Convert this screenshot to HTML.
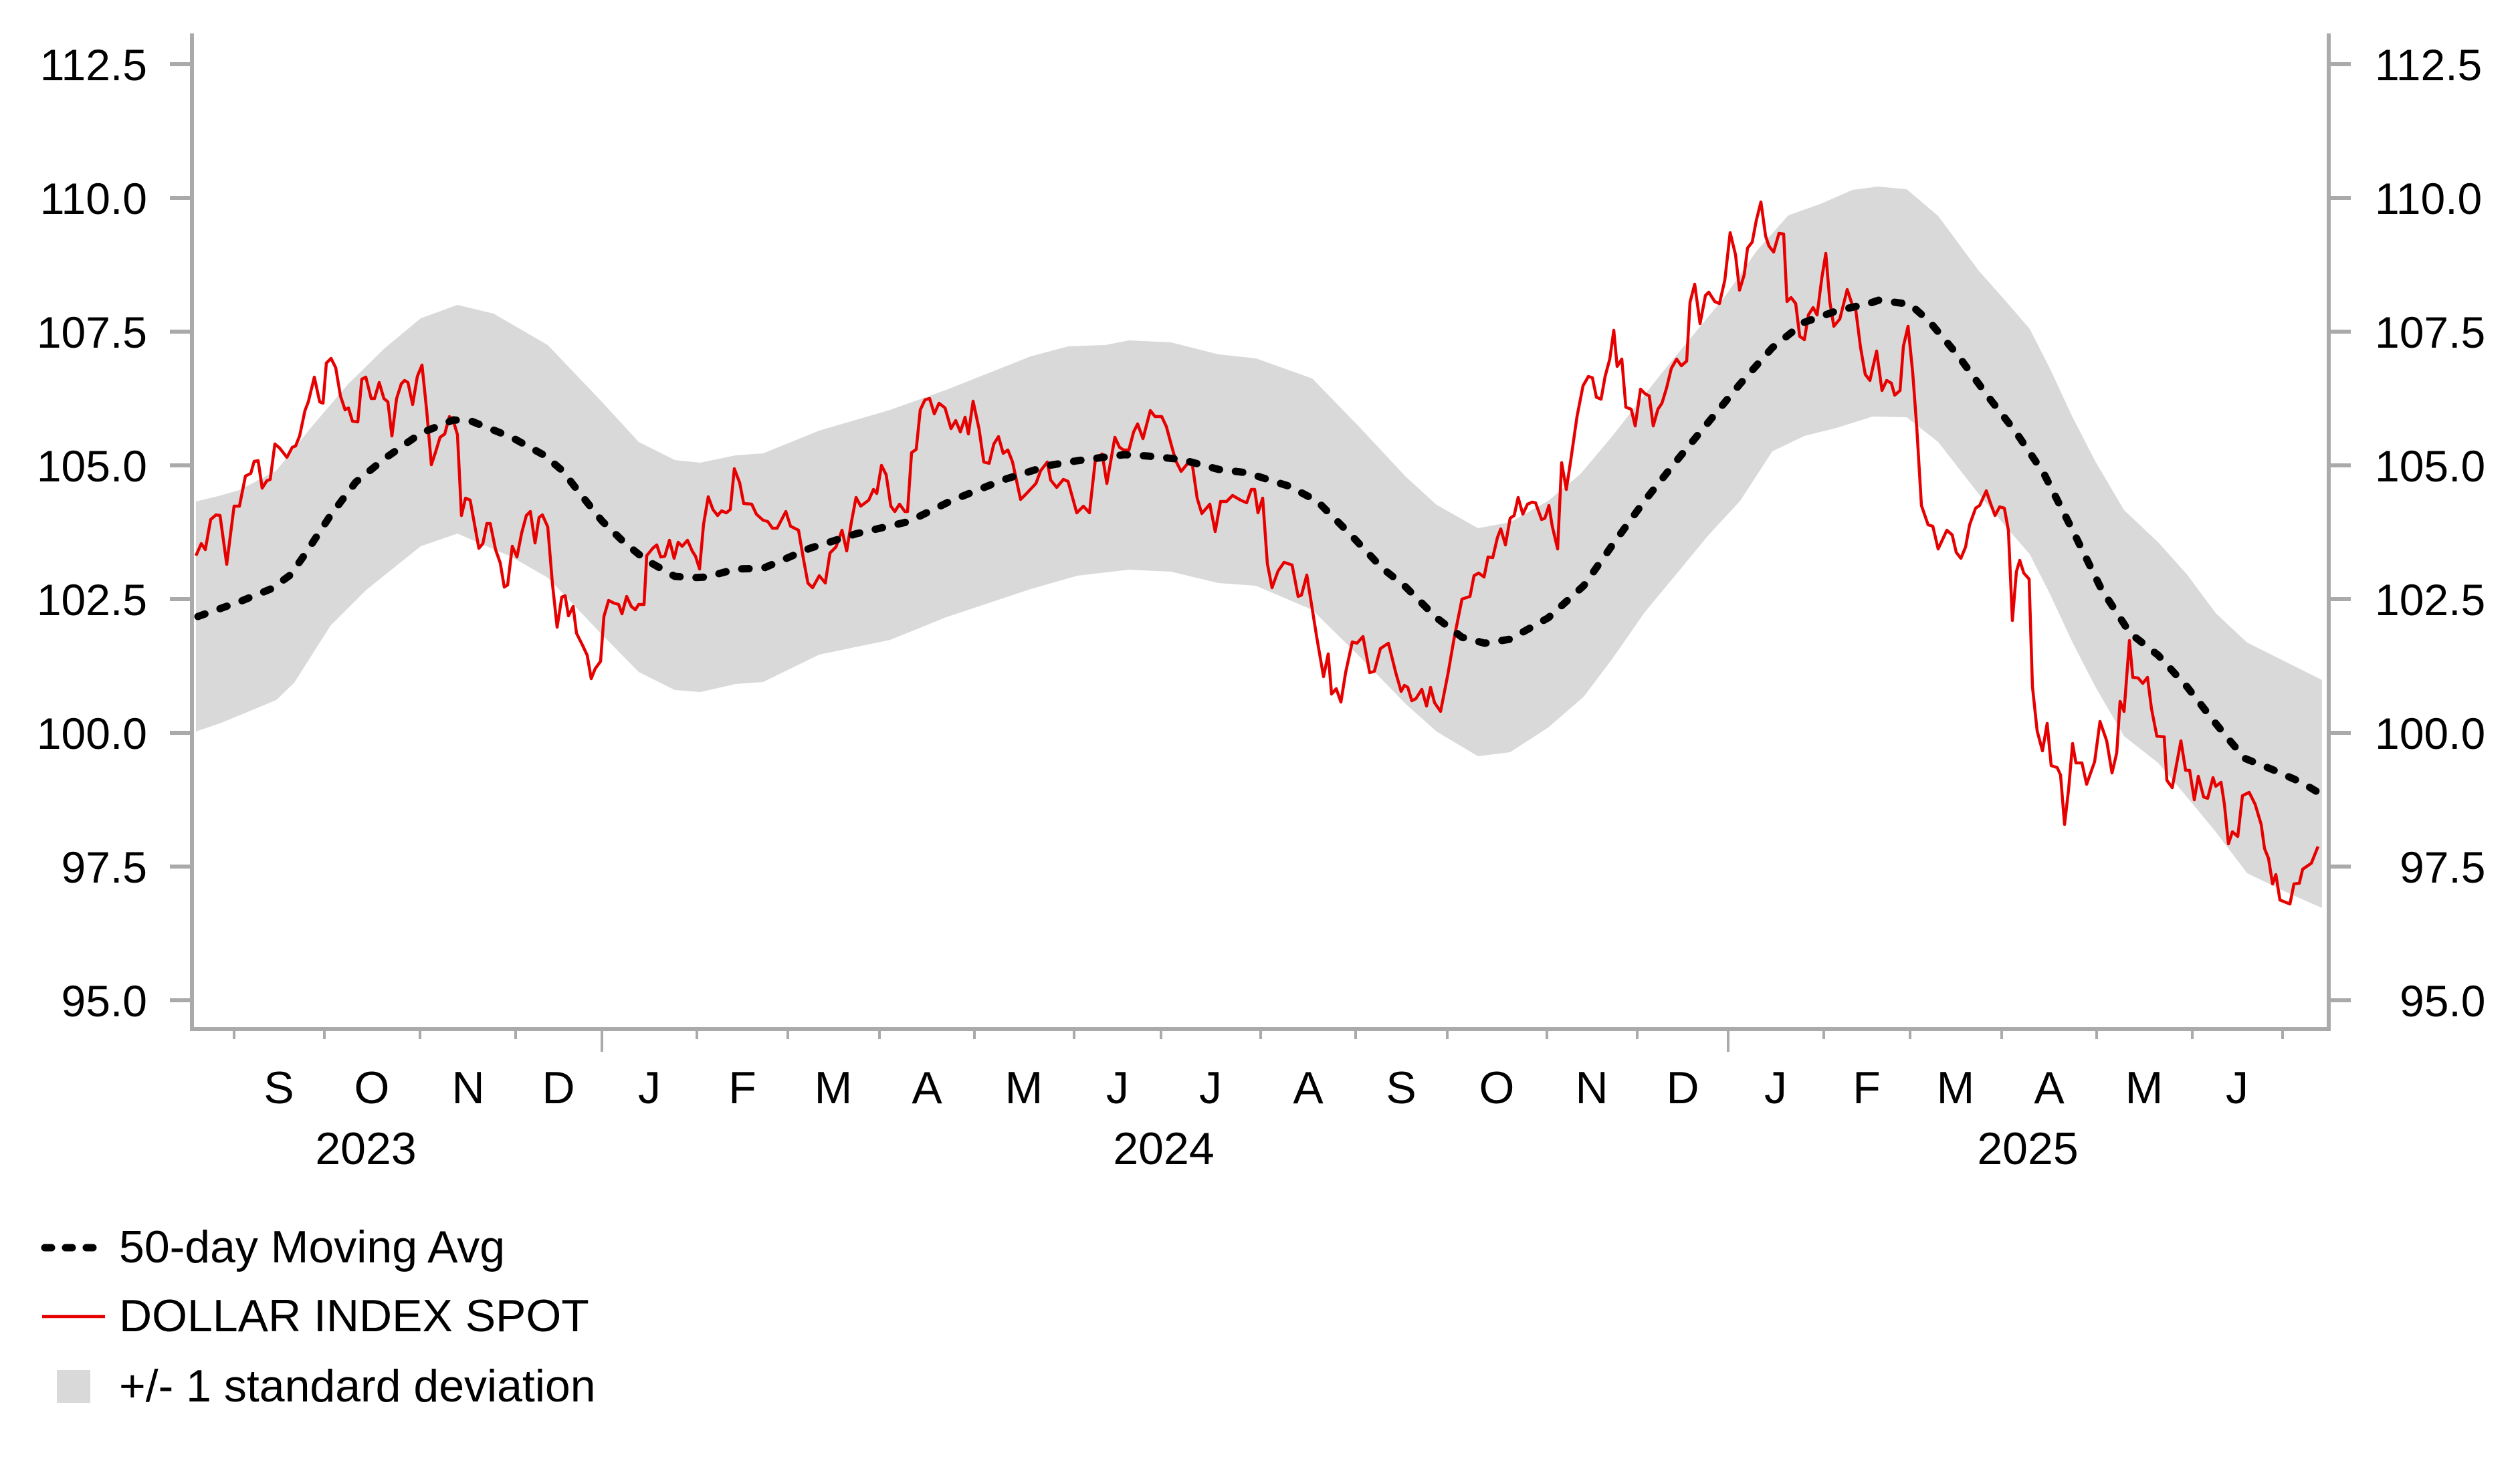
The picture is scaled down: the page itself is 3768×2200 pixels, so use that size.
<!DOCTYPE html>
<html><head><meta charset="utf-8"><style>
html,body{margin:0;padding:0;background:#fff;}
svg{display:block;}
text{font-family:"Liberation Sans",Arial,sans-serif;fill:#000;}
</style></head><body>
<svg width="3768" height="2200" viewBox="0 0 3768 2200" xmlns="http://www.w3.org/2000/svg">
<!-- band -->
<polygon fill="#d9d9d9" points="
293,750 326,742 358,733 413,704 467,637 521,574 575,521 629,476 684,456 738,469 819,516 900,601 955,661 1009,688 1047,692 1100,681
1141,678 1225,644 1331,613 1415,583 1541,533 1597,518 1653,516 1688,509 1751,512 1822,530 1878,536 1962,566 2032,638 2102,713
2148,755 2210,790 2258,781 2315,749 2363,709 2411,652 2483,560 2530,503 2578,445 2626,376 2674,322 2722,305 2770,284 2808,279
2851,283 2898,323 2958,404 2997,448 3035,492 3065,551 3099,624 3133,690 3176,763 3227,811 3270,859 3313,917 3360,961 3420,991 3472,1017
3472,1358 3420,1335 3360,1306 3313,1244 3270,1192 3227,1141 3176,1101 3133,1027 3099,961 3065,888 3035,829 2997,785 2958,738 2898,661 2851,624
2800,623 2746,640 2698,652 2650,675 2602,749 2554,801 2507,858 2459,916 2411,985 2368,1042 2315,1088 2258,1125 2210,1131 2148,1094 2102,1053
2032,981 1962,912 1878,876 1822,872 1751,855 1688,852 1611,861 1541,881 1415,923 1331,957 1225,979 1141,1020 1100,1023
1047,1035 1009,1032 955,1005 900,949 819,864 765,833 684,798 629,817 548,882 494,936 440,1021 413,1047 331,1081 293,1094"/>
<!-- red line -->
<polyline fill="none" stroke="#e60000" stroke-width="4.5" stroke-linejoin="round" points="
293,831 301,813 307,822 315,777 323,770 329,771 339,844 350,757 358,757 367,712 375,708 380,690 386,689 392,730 399,719 404,717 411,664 418,670 429,684 437,669 442,667 448,652 456,614 461,601 470,564 478,601 483,603 488,543 495,536 502,550 509,592 516,613 521,610 527,630 535,631 541,567 547,564 555,596 560,596 567,572 574,596 580,601 586,652 593,596 600,574 605,569 610,572 617,605 624,563 631,546 638,614 645,695 651,677 658,654 665,649 672,623 678,630 684,650 690,771 696,745 703,748 716,820 722,813 728,783 733,783 741,822 748,842 754,878 759,875 766,817 773,833 780,797 787,771 793,765 800,812 806,774 811,770 819,788 826,873 833,938 840,893 845,891 850,921 857,907 862,947 871,965 878,980 884,1015 890,1000 898,989 903,922 910,898 918,902 925,904 930,918 937,892 944,907 950,912 955,904 963,904 967,831 976,820 982,815 988,833 994,832 1001,808 1008,835 1014,811 1020,817 1028,808 1035,824 1040,832 1046,851 1052,784 1059,743 1066,762 1073,771 1079,764 1086,767 1092,762 1098,701
1106,722 1112,753 1124,754 1131,769 1141,778 1148,780 1155,790 1162,790 1175,765 1182,787 1194,793 1201,834 1208,872 1215,879 1225,861 1234,872 1241,827 1250,818 1259,793 1266,824 1273,781 1280,744 1287,757 1299,748 1306,732 1311,738 1318,696 1325,710 1332,757 1338,765 1345,754 1353,765 1357,765 1363,677 1370,672 1376,613 1383,598 1390,596 1397,619 1404,603 1413,610 1422,641 1429,629 1436,646 1443,624 1448,649 1455,600 1464,642 1471,691 1479,693 1486,664 1493,653 1500,678 1507,673 1514,691 1526,747 1534,739 1549,723 1556,704 1566,691 1571,718 1580,729 1590,717 1597,720 1610,767 1620,757 1629,767 1638,686 1648,679 1655,723 1667,654 1674,669 1680,673 1688,673 1695,646 1701,634 1709,656 1720,614 1727,623 1737,623 1744,638 1751,664 1758,689 1766,705 1776,693 1783,696 1790,745 1797,768 1809,754 1817,795 1825,750 1834,750 1843,741 1855,748 1864,752 1871,732 1876,732 1881,767 1888,745 1895,843 1902,879 1911,854 1920,841 1932,845 1941,892 1946,890 1954,860 1962,910 1969,954 1979,1012 1986,978 1991,1038 1998,1030 2005,1050 2012,1006 2022,960 2029,962 2038,952 2048,1006 2055,1004 2064,970 2076,962 2087,1006 2095,1034
2100,1025 2105,1028 2111,1048 2117,1045 2126,1031 2133,1056 2139,1028 2145,1051 2154,1064 2165,1008 2174,956 2186,896 2198,892 2204,861 2211,857 2219,863 2225,833 2232,834 2239,804 2244,791 2251,815 2258,775 2264,771 2270,744 2277,769 2284,754 2291,751 2296,752 2305,777 2310,775 2316,756 2321,787 2329,821 2335,692 2342,732 2349,686 2358,623 2367,577 2375,563 2381,565 2387,594 2394,597 2400,563 2407,537 2413,494 2418,548 2425,537 2431,609 2439,612 2445,637 2453,582 2460,589 2466,592 2472,637 2479,612 2485,603 2492,580 2499,551 2507,537 2514,547 2522,540 2527,452 2534,425 2542,484 2550,442 2555,437 2564,451 2571,454 2579,419 2587,348 2595,381 2601,434 2608,411 2613,371 2620,362 2626,330 2633,302 2640,353 2645,368 2652,377 2660,349 2667,350 2672,451 2678,445 2685,454 2691,503 2698,508 2704,471 2711,460 2717,471 2724,416 2730,379 2736,451 2742,488 2751,477 2756,457 2762,433 2769,454 2775,465 2782,520 2789,560 2796,569
2800,551 2806,525 2814,584 2821,569 2828,573 2833,591 2841,584 2846,518 2853,488 2860,558 2866,639 2873,756 2883,785 2890,787 2898,821 2911,793 2919,800 2925,826 2932,835 2939,818 2945,785 2954,760 2960,756 2970,734 2976,752 2983,771 2990,758 2997,760 3003,793 3009,928 3015,855 3020,838 3026,857 3034,866 3039,1027 3046,1093 3054,1123 3061,1082 3067,1145 3076,1148 3081,1159 3087,1233 3093,1181 3099,1112 3104,1141 3113,1141 3120,1173 3132,1139 3140,1079 3150,1108 3158,1156 3165,1126 3170,1049 3176,1064 3184,958 3189,1013 3197,1014 3204,1022 3211,1013 3217,1060 3225,1101 3236,1102 3240,1167 3248,1178 3261,1108 3268,1152 3274,1152 3281,1196 3287,1161 3295,1192 3301,1194 3309,1163 3313,1176 3321,1170 3326,1203 3332,1262 3338,1244 3346,1251 3353,1190 3363,1185 3372,1203 3381,1233 3386,1269 3392,1284 3398,1322 3403,1308 3409,1346 3424,1352 3430,1322 3438,1321 3443,1300 3456,1291 3466,1266"/>
<!-- moving average -->
<polyline fill="none" stroke="#000" stroke-width="11" stroke-linecap="round" stroke-linejoin="round" stroke-dasharray="11 24" points="
296,922 358,900 407,880 434,860 456,829 494,771 532,721 575,686 629,648 678,628 705,630 765,654 814,681 841,704 868,739 900,779 933,811 965,837 1009,862 1036,864 1057,863 1100,851 1141,850 1211,820 1281,798 1359,780 1422,749 1499,718 1569,696 1611,689 1681,680 1716,682 1766,687 1822,702 1864,707 1927,727 1969,749 2018,798 2067,850 2100,876 2148,924 2186,953 2220,962 2258,956 2315,924 2368,876 2411,815 2459,749 2507,689 2554,632 2602,574 2650,520 2698,482 2746,465 2794,454 2809,449 2856,455 2885,481 2928,532 2971,591 3014,646 3056,708 3099,793 3142,881 3185,947 3227,980 3270,1027 3313,1082 3356,1134 3398,1151 3441,1170 3466,1185"/>
<!-- axes -->
<g stroke="#aaaaaa" stroke-width="6" fill="none">
<polyline points="287,50 287,1539 3482,1539 3482,50"/>
<path d="M254,96H287M254,296H287M254,496H287M254,696H287M254,896H287M254,1096H287M254,1296H287M254,1496H287"/>
<path d="M3482,96H3515M3482,296H3515M3482,496H3515M3482,696H3515M3482,896H3515M3482,1096H3515M3482,1296H3515M3482,1496H3515"/>
</g>
<g stroke="#aaaaaa" stroke-width="4">
<path d="M350,1539V1554M485,1539V1554M628,1539V1554M771,1539V1554M1042,1539V1554M1178,1539V1554M1315,1539V1554M1457,1539V1554M1606,1539V1554M1736,1539V1554M1885,1539V1554M2027,1539V1554M2164,1539V1554M2313,1539V1554M2448,1539V1554M2727,1539V1554M2856,1539V1554M2993,1539V1554M3135,1539V1554M3278,1539V1554M3413,1539V1554"/>
<path d="M900,1539V1573M2584,1539V1573"/>
</g>
<g font-size="66" text-anchor="end">
<text x="220" y="120">112.5</text><text x="220" y="320">110.0</text><text x="220" y="520">107.5</text><text x="220" y="720">105.0</text><text x="220" y="920">102.5</text><text x="220" y="1120">100.0</text><text x="220" y="1320">97.5</text><text x="220" y="1520">95.0</text>
</g>
<g font-size="66" text-anchor="start">
<text x="3551" y="120">112.5</text><text x="3551" y="320">110.0</text><text x="3551" y="520">107.5</text><text x="3551" y="720">105.0</text><text x="3551" y="920">102.5</text><text x="3551" y="1120">100.0</text><text x="3588" y="1320">97.5</text><text x="3588" y="1520">95.0</text>
</g>
<g font-size="68" text-anchor="middle">
<text x="417" y="1650">S</text><text x="556" y="1650">O</text><text x="700" y="1650">N</text><text x="835" y="1650">D</text>
<text x="971" y="1650">J</text><text x="1110" y="1650">F</text><text x="1246" y="1650">M</text><text x="1386" y="1650">A</text><text x="1531" y="1650">M</text><text x="1671" y="1650">J</text><text x="1810" y="1650">J</text><text x="1956" y="1650">A</text><text x="2095" y="1650">S</text><text x="2238" y="1650">O</text><text x="2380" y="1650">N</text><text x="2516" y="1650">D</text>
<text x="2655" y="1650">J</text><text x="2791" y="1650">F</text><text x="2924" y="1650">M</text><text x="3064" y="1650">A</text><text x="3206" y="1650">M</text><text x="3345" y="1650">J</text>
<text x="547" y="1741">2023</text><text x="1740" y="1741">2024</text><text x="3032" y="1741">2025</text>
</g>
<!-- legend -->
<line x1="67" y1="1866" x2="158" y2="1866" stroke="#000" stroke-width="11" stroke-linecap="round" stroke-dasharray="10 21"/>
<line x1="63" y1="1969" x2="157" y2="1969" stroke="#e60000" stroke-width="4.5"/>
<rect x="85" y="2049" width="50" height="49" fill="#d9d9d9"/>
<g font-size="68">
<text x="178" y="1888">50-day Moving Avg</text>
<text x="178" y="1991">DOLLAR INDEX SPOT</text>
<text x="178" y="2096">+/- 1 standard deviation</text>
</g>
</svg>
</body></html>
